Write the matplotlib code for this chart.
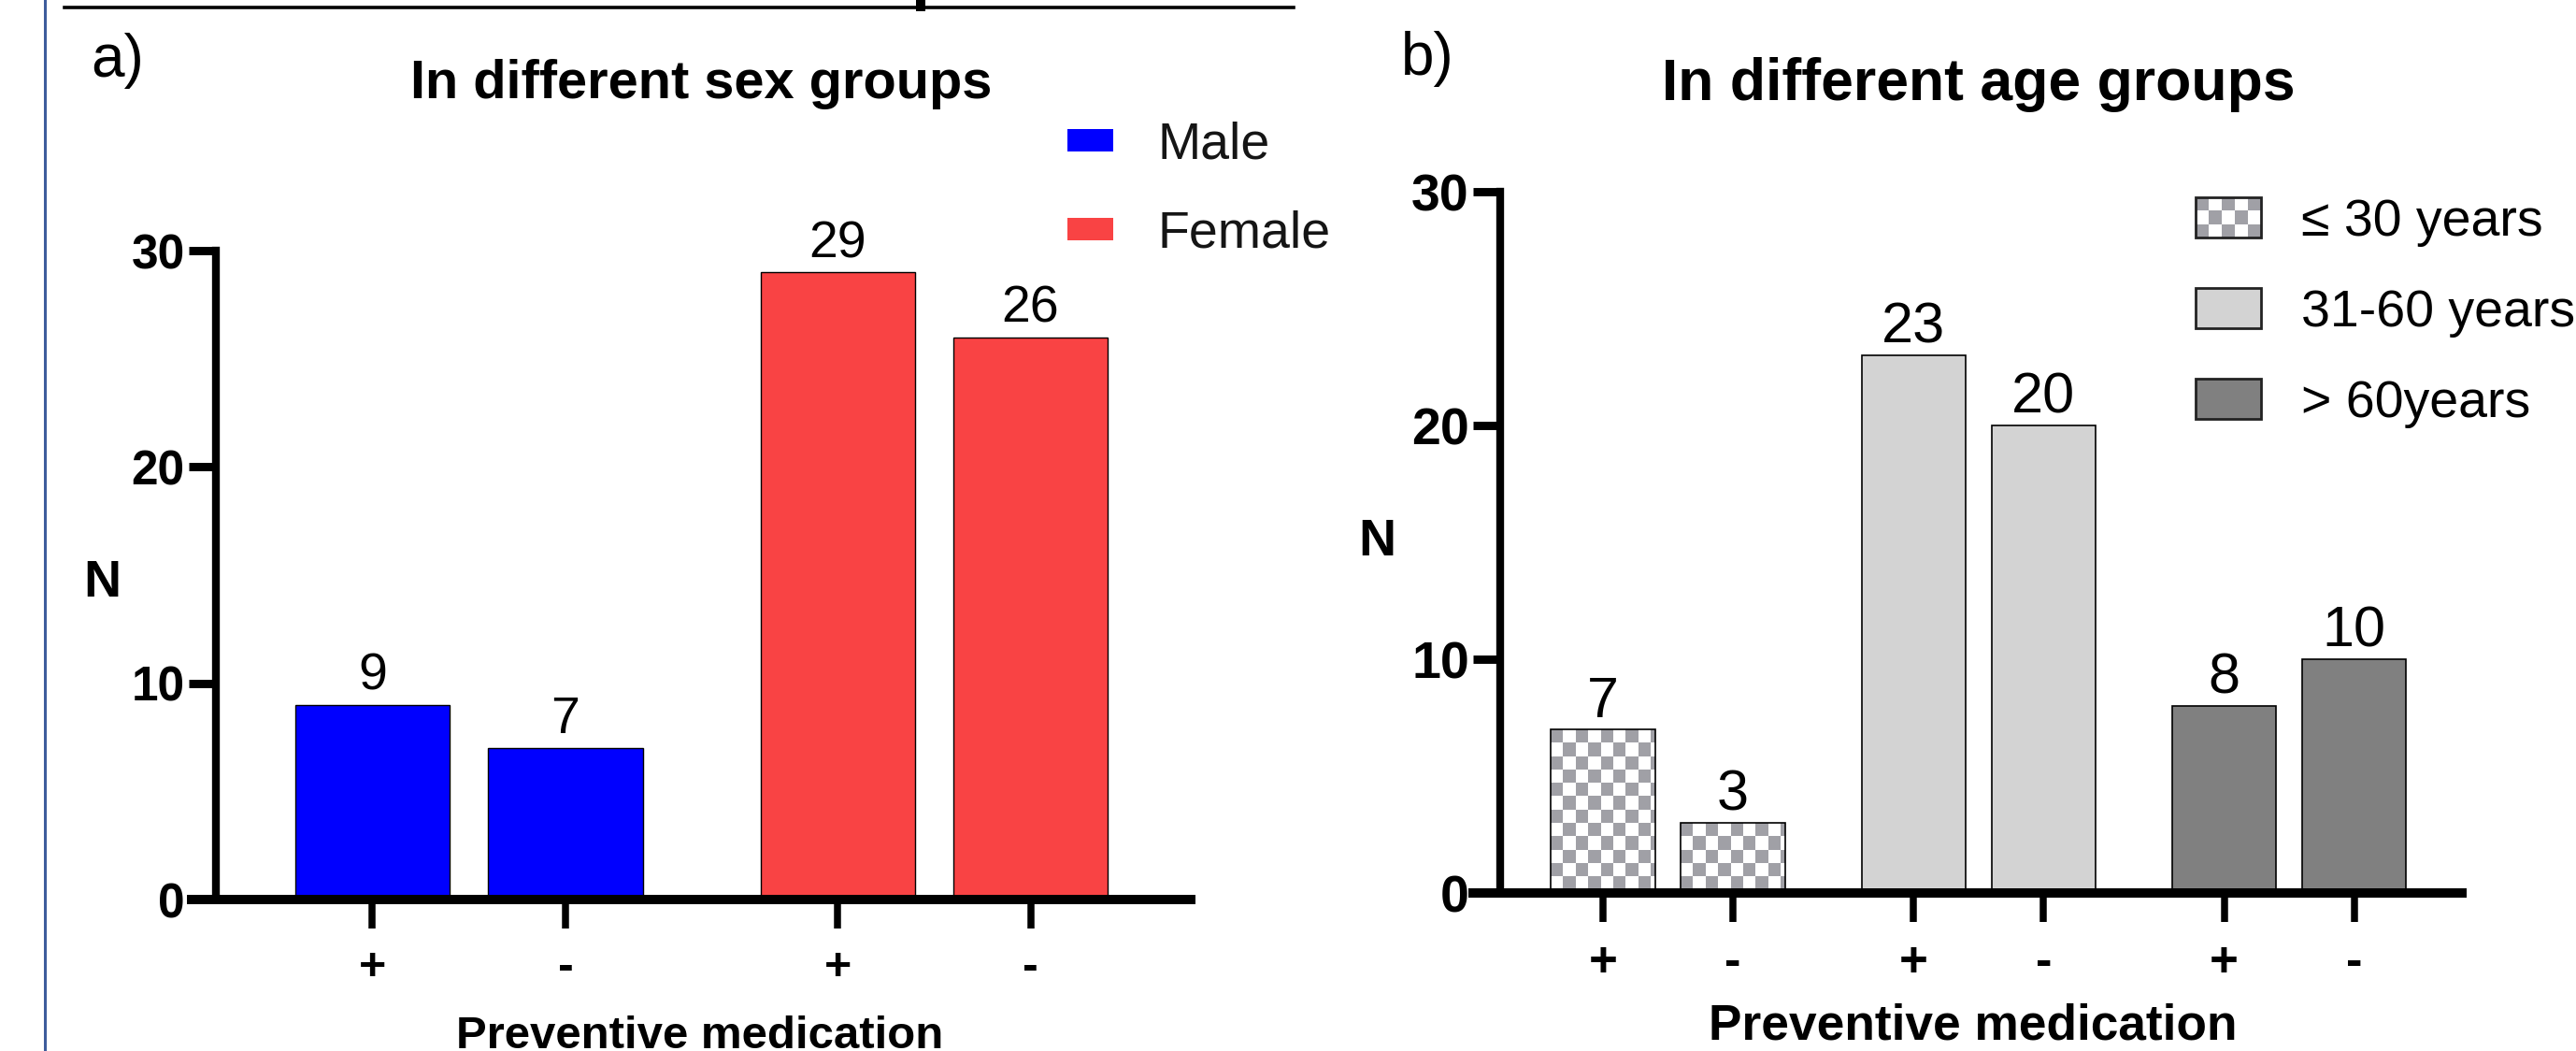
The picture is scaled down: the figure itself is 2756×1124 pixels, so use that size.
import numpy as np
import matplotlib
matplotlib.use('Agg')
import matplotlib.pyplot as plt
from matplotlib.patches import Patch, Rectangle
from matplotlib.legend_handler import HandlerBase
from matplotlib.lines import Line2D

# ---- data ----
med_labels = ['+', '-']
sex_groups = ['Male', 'Female']
male_counts = [9, 7]
female_counts = [29, 26]
age_groups = ['≤ 30 years', '31-60 years', '> 60years']
age_le30_counts = [7, 3]
age_31_60_counts = [23, 20]
age_gt60_counts = [8, 10]
y_ticks = [0, 10, 20, 30]

# ---- style ----
BLUE = '#0000FF'
RED = '#F94344'
LIGHT = '#D3D3D3'
DARK = '#808080'
CHECK = '#A0A0A6'

plt.rcParams['font.family'] = ['Liberation Sans', 'DejaVu Sans']

W, H = 2756, 1124
fig = plt.figure(figsize=(W / 200, H / 200), dpi=200, facecolor='white')


def fx(px):
    return px / W


def fy(py):
    return 1 - py / H


def style_axis(ax, xlim, spine_x, xfs, yfs):
    ax.set_xlim(*xlim)
    ax.set_ylim(0, 30)
    ax.spines['top'].set_visible(False)
    ax.spines['right'].set_visible(False)
    ax.spines['left'].set_position(('data', spine_x))
    ax.spines['left'].set_linewidth(3.0)
    ax.spines['bottom'].set_linewidth(3.6)
    ax.set_yticks(y_ticks)
    ax.set_yticklabels([str(t) for t in y_ticks], fontsize=yfs, fontweight='bold')
    ax.tick_params(axis='y', length=10.5, width=3.2, pad=1.5)
    ax.tick_params(axis='x', length=11, width=2.7, pad=7, labelsize=xfs)
    for lab in ax.get_xticklabels():
        lab.set_fontweight('bold')
    ax.set_facecolor('none')


def checker_fill(ax, bar, cw, ch):
    # grey/white checkerboard clipped to the bar rectangle
    x0, w, h = bar.get_x(), bar.get_width(), bar.get_height()
    ncol = int(np.ceil(w / cw))
    nrow = int(np.ceil(h / ch))
    grid = (np.add.outer(np.arange(nrow), np.arange(ncol)) % 2) == 0
    grey = np.array(matplotlib.colors.to_rgb(CHECK))
    img = np.where(grid[..., None], grey, np.ones(3))
    im = ax.imshow(img, extent=(x0, x0 + ncol * cw, h - nrow * ch, h), origin='upper',
                   interpolation='nearest', aspect='auto', zorder=1)
    im.set_clip_path(bar)


class CheckerHandler(HandlerBase):
    def create_artists(self, legend, orig_handle, xdescent, ydescent, width, height, fontsize, trans):
        x0, y0 = -xdescent, -ydescent
        arts = [Rectangle((x0, y0), width, height, fc='white', ec='none', transform=trans)]
        ncol, nrow = 5, 3
        cw, ch = width / ncol, height / nrow
        for r in range(nrow):
            for c in range(ncol):
                if (r + c) % 2 == 0:
                    arts.append(Rectangle((x0 + c * cw, y0 + height - (r + 1) * ch), cw, ch,
                                          fc=CHECK, ec='none', transform=trans))
        arts.append(Rectangle((x0, y0), width, height, fill=False, ec='#222222', lw=1.0, transform=trans))
        return arts


# ---- panel a: sex groups ----
axa = fig.add_axes([fx(205), fy(962), fx(1274) - fx(205), fy(268) - fy(962)])
a_starts = [0, 2.41]
a_counts = [male_counts, female_counts]
a_colors = [BLUE, RED]
a_pos, a_lab = [], []
for start, counts, col in zip(a_starts, a_counts, a_colors):
    xs = [start + i for i in range(len(counts))]
    bars = axa.bar(xs, counts, width=0.8, color=col, edgecolor='black', linewidth=0.5, zorder=1)
    for b, v in zip(bars, counts):
        axa.annotate(str(v), (b.get_x() + b.get_width() / 2, v), xytext=(0, 5.8),
                     textcoords='offset points', ha='center', va='baseline', fontsize=20)
    a_pos += xs
    a_lab += med_labels
axa.set_xticks(a_pos)
axa.set_xticklabels(a_lab)
style_axis(axa, (-0.937, 4.24), -0.811, 18, 18.5)

leg_a = [Patch(facecolor=c, edgecolor='none', label=n) for c, n in zip(a_colors, sex_groups)]
fig.legend(handles=leg_a, loc='upper left', bbox_to_anchor=(fx(1142), fy(130)),
           frameon=False, borderpad=0, borderaxespad=0, fontsize=20,
           handlelength=0.88, handleheight=0.29, handletextpad=0.86, labelspacing=0.77,
           labelcolor='#151515')

# ---- panel b: age groups ----
axb = fig.add_axes([fx(1576), fy(955), fx(2634) - fx(1576), fy(205) - fy(955)])
b_starts = [0, 2.39, 4.78]
b_counts = [age_le30_counts, age_31_60_counts, age_gt60_counts]
b_colors = [None, LIGHT, DARK]
b_pos, b_lab = [], []
for start, counts, col in zip(b_starts, b_counts, b_colors):
    xs = [start + i for i in range(len(counts))]
    if col is None:
        bars = axb.bar(xs, counts, width=0.8, facecolor='none', edgecolor='black', linewidth=0.6, zorder=2)
        for b in bars:
            checker_fill(axb, b, 13.3 / 139, 14.3 / 25)
    else:
        bars = axb.bar(xs, counts, width=0.8, color=col, edgecolor='black', linewidth=0.6, zorder=1)
    for b, v in zip(bars, counts):
        axb.annotate(str(v), (b.get_x() + b.get_width() / 2, v), xytext=(0, 4.7),
                     textcoords='offset points', ha='center', va='baseline', fontsize=22)
    b_pos += xs
    b_lab += med_labels
axb.set_xticks(b_pos)
axb.set_xticklabels(b_lab)
style_axis(axb, (-1.0, 6.61), -0.79, 19, 20)

leg_b = [Patch(facecolor='white', edgecolor='#222222', label=age_groups[0]),
         Patch(facecolor=LIGHT, edgecolor='#222222', linewidth=1.0, label=age_groups[1]),
         Patch(facecolor=DARK, edgecolor='#222222', linewidth=1.0, label=age_groups[2])]
fig.legend(handles=leg_b, loc='upper left', bbox_to_anchor=(fx(2349), fy(211)),
           frameon=False, borderpad=0, borderaxespad=0, fontsize=20,
           handlelength=1.26, handleheight=0.81, handletextpad=0.77, labelspacing=0.8,
           handler_map={leg_b[0]: CheckerHandler()})

# ---- titles, labels ----
fig.text(fx(750), fy(105), 'In different sex groups', ha='center', va='baseline',
         fontsize=20.8, fontweight='bold')
fig.text(fx(2117), fy(107), 'In different age groups', ha='center', va='baseline',
         fontsize=22.5, fontweight='bold')
fig.text(fx(97), fy(82), 'a)', ha='left', va='baseline', fontsize=23)
fig.text(fx(1499), fy(80), 'b)', ha='left', va='baseline', fontsize=23)
fig.text(fx(109), fy(624), 'N', ha='center', va='center', fontsize=20, fontweight='bold')
fig.text(fx(1473), fy(580), 'N', ha='center', va='center', fontsize=20, fontweight='bold')
fig.text(fx(749), fy(1086), 'Preventive medication', ha='center', va='top',
         fontsize=17.7, fontweight='bold')
fig.text(fx(2111), fy(1073), 'Preventive medication', ha='center', va='top',
         fontsize=19.2, fontweight='bold')

# ---- page decorations (cropped from a larger figure) ----
fig.add_artist(Line2D([fx(69), fx(1384)], [fy(7.5), fy(7.5)], color='black', lw=1.3))
fig.add_artist(Line2D([fx(985), fx(985)], [fy(0), fy(7)], color='black', lw=3.6))
fig.add_artist(Line2D([fx(47.5), fx(47.5)], [0, 1], color='#3d5c9c', lw=1.1))

fig.savefig('out.png', dpi=200, facecolor='white')
